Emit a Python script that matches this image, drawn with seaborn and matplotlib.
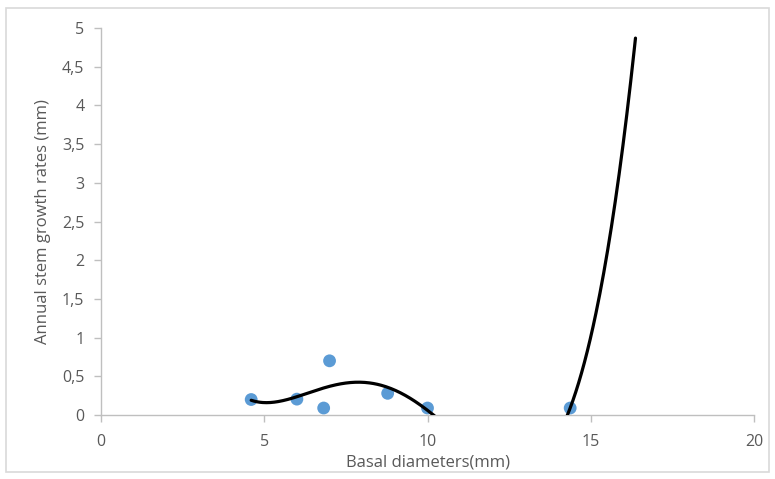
import numpy as np
import pandas as pd
import matplotlib
matplotlib.use("Agg")
import matplotlib.pyplot as plt
import seaborn as sns
from matplotlib.ticker import FuncFormatter
from matplotlib.patches import Rectangle

# Data
basal_diameter = [4.6, 6.0, 6.82, 7.0, 8.78, 10.0, 14.37]
growth_rate = [0.2, 0.205, 0.09, 0.7, 0.28, 0.09, 0.09]
trend_degree = 4
trend_forward = 2.0

x_ticks = [0, 5, 10, 15, 20]
y_ticks = [0, 0.5, 1, 1.5, 2, 2.5, 3, 3.5, 4, 4.5, 5]

sns.set_theme(style="white")
plt.rcParams['font.family'] = ['Open Sans', 'DejaVu Sans']

df = pd.DataFrame({"x": basal_diameter, "y": growth_rate})

fig = plt.figure(figsize=(7.75, 4.79), dpi=100)
ax = fig.add_axes([101/775, 1-415/479, (754-101)/775, (415-28)/479])

# Polynomial trendline (Excel-style) with forward forecast
coef = np.polyfit(df["x"], df["y"], trend_degree)
xs = np.linspace(df["x"].min(), df["x"].max() + trend_forward, 400)
ys = np.polyval(coef, xs)
sns.lineplot(x=xs, y=ys, ax=ax, color="black", linewidth=2.3, zorder=3)

sns.scatterplot(data=df, x="x", y="y", ax=ax, color="#5b9bd5", s=85,
                edgecolor="none", zorder=2)

ax.set_xlim(0, 20)
ax.set_ylim(0, 5)
ax.set_xticks(x_ticks)
ax.set_yticks(y_ticks)
ax.yaxis.set_major_formatter(FuncFormatter(lambda v, p: f"{v:g}".replace(".", ",")))

gray = "#595959"
for s in ["top", "right"]:
    ax.spines[s].set_visible(False)
for s in ["left", "bottom"]:
    ax.spines[s].set_color("#bfbfbf")
    ax.spines[s].set_linewidth(1.0)
ax.tick_params(axis="both", colors="#bfbfbf", labelcolor=gray, labelsize=11.5,
               direction="out", length=5, width=1, bottom=True, left=True)
ax.tick_params(axis="x", pad=9)
ax.tick_params(axis="y", pad=7)
ax.set_xlabel("Basal diameters(mm)", color=gray, fontsize=12, labelpad=3)
ax.set_ylabel("Annual stem growth rates (mm)", color=gray, fontsize=12, labelpad=8)

fig.patches.append(Rectangle((6/775, 1-472/479), (769-6)/775, (472-8)/479,
                             transform=fig.transFigure, fill=False,
                             edgecolor="#d9d9d9", linewidth=1.2))

fig.savefig("out.png", dpi=100)
